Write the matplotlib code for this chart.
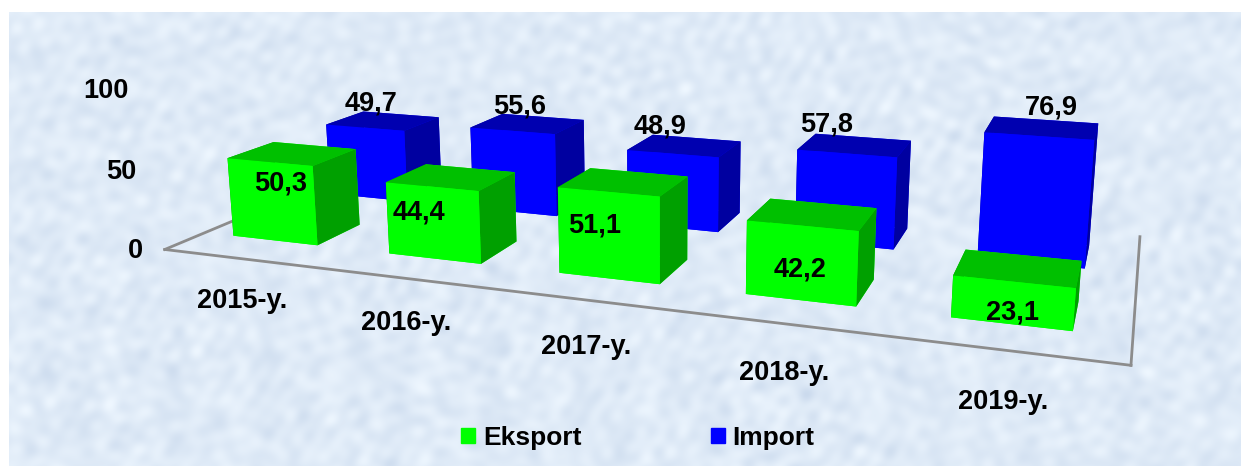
import numpy as np
import matplotlib
matplotlib.use('Agg')
import matplotlib.pyplot as plt
from matplotlib.patches import Patch

years = ['2015-y.', '2016-y.', '2017-y.', '2018-y.', '2019-y.']
eksport = [50.3, 44.4, 51.1, 42.2, 23.1]
import_ = [49.7, 55.6, 48.9, 57.8, 76.9]
z_ticks = [0, 50, 100]

# hand placed value labels: share of bar height, sideways nudge in category units
eks_frac = [0.74, 0.62, 0.6, 0.42, 0.28]
eks_dx = [0.03, -0.12, -0.11, -0.04, -0.03]
imp_dx = [0.015, 0.015, -0.11, -0.15, 0.02]

plt.rcParams['font.family'] = ['Liberation Sans', 'DejaVu Sans']
plt.rcParams['font.weight'] = 'bold'
plt.rcParams['font.size'] = 19.5

W, H = 1241, 466
fig = plt.figure(figsize=(W/100, H/100), dpi=100, facecolor='white')

#%% textured background
bg = fig.add_axes([9/W, 0, 1-9/W, 1-12/H])
bg.set_axis_off()
yy, xx = np.mgrid[0:454, 0:1232]
tex = np.zeros(xx.shape)
for k in range(1, 70):
    ang = k*2.399
    fr = 0.06 + 0.02*(k % 17)
    tex += np.sin(fr*(xx*np.cos(ang)+yy*np.sin(ang)) + k*k*0.7)
tex = tex/tex.std()
img = np.zeros(xx.shape+(3,))
img[..., 0] = 0.875 + 0.016*tex
img[..., 1] = 0.920 + 0.013*tex
img[..., 2] = 0.970 + 0.008*tex
bg.imshow(np.clip(img, 0, 1), aspect='auto')

#%% 3d bars
S = 1221
ax = fig.add_axes([39/W, -321.5/H, S/W, S/H], projection='3d', computed_zorder=False)
ax.patch.set_alpha(0)
ax.set_xlim(-0.5, 4.5)
ax.set_ylim(0, 4.4)
ax.set_zlim(0, 100)
ax.set_box_aspect((6.5, 2.9, 1.16), zoom=0.815*np.linalg.norm([6.5, 2.9, 1.16])/np.linalg.norm([6.5, 3.3, 1.0]))
ax.view_init(elev=13.5, azim=-70.5)
ax.set_proj_type('persp', focal_length=0.209)
ax.set_axis_off()

bar_w = 0.55
bar_d = 0.85
bar_shift = -0.035
y_eks = 0.68
y_imp = 2.61
y_floor = 4.0
green = ['#00ff00', '#00c000', '#00ff00', '#00ff00', '#00a000', '#00a000']
blue = ['#0000ff', '#0000b0', '#0000ff', '#0000ff', '#0000a0', '#0000a0']

ax.plot([-0.5, -0.5], [y_floor, 0], [0, 0], color='#8c8c8c', lw=2, zorder=1)
ax.plot([-0.5, 4.5], [0, 0], [0, 0], color='#8c8c8c', lw=2, zorder=1)
ax.plot([4.5, 4.5], [0, y_floor], [0, 0], color='#8c8c8c', lw=2, zorder=1)

for i, v in enumerate(import_):
    ax.bar3d(i-bar_w/2+bar_shift, y_imp, 0, bar_w, bar_d, v, color=blue, shade=False, lw=0, zorder=2+i)
    ax.text(i+imp_dx[i], y_imp, v+17, ('%.1f' % v).replace('.', ','), ha='center', va='center', zorder=30)
for i, v in enumerate(eksport):
    ax.bar3d(i-bar_w/2+bar_shift, y_eks, 0, bar_w, bar_d, v, color=green, shade=False, lw=0, zorder=10+i)
    ax.text(i+eks_dx[i], y_eks, v*eks_frac[i], ('%.1f' % v).replace('.', ','), ha='center', va='center', zorder=30)
    ax.text(i-0.02, 0, -27, years[i], ha='center', va='center', zorder=30)

for t in z_ticks:
    ax.text(-0.645, 0, t-2.5, str(t), ha='right', va='center', zorder=30)

handles = [Patch(color='#00ff00', label='Eksport'), Patch(color='#0000ff', label='Import')]
fig.legend(handles=handles, ncol=2, frameon=False, loc='center', bbox_to_anchor=(638/W, 1-438/H), fontsize=19,
           handlelength=0.52, handleheight=0.52, handletextpad=0.3, columnspacing=4.9)

plt.savefig('out.png', dpi=100)
